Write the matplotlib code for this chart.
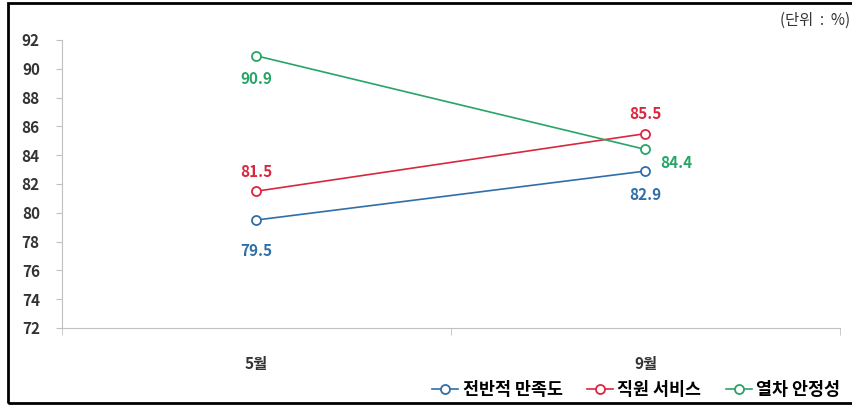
#!/usr/bin/env python3
import matplotlib
matplotlib.use('Agg')
import matplotlib.pyplot as plt
from matplotlib.patches import Rectangle

plt.rcParams['font.family'] = ['Noto Sans CJK KR', 'DejaVu Sans']

months = ['5월', '9월']
series_names = ['전반적 만족도', '직원 서비스', '열차 안정성']
overall = [79.5, 82.9]
staff = [81.5, 85.5]
train = [90.9, 84.4]
colors = ['#2f6fa8', '#d8283f', '#27a566']

# label offsets in points (dx, dy) per series per month
offsets = [[(0, -22), (0, -17)],
           [(0, 14), (0, 14)],
           [(0, -17), (22, -10)]]

fig = plt.figure(figsize=(8.53, 4.05), dpi=100)
ax = fig.add_axes([62 / 853, 1 - 328 / 405, 778 / 853, 288 / 405])

xs = list(range(len(months)))
for idx, vals in enumerate([overall, staff, train]):
  ax.plot(xs, vals, color=colors[idx], lw=1.2, marker='o', ms=6.5,
          mfc='white', mec=colors[idx], mew=1.3, label=series_names[idx])
  for j, v in enumerate(vals):
    ax.annotate('{:.1f}'.format(v), (xs[j], v), xytext=offsets[idx][j],
                textcoords='offset points', ha='center', va='center',
                color=colors[idx], fontsize=11, fontweight='bold')

ax.set_xlim(-0.5, 1.5)
ax.set_ylim(72, 92)
ax.set_yticks(range(72, 93, 2))
ax.set_xticks(xs)
ax.set_xticklabels(months)
ax.set_xticks([-0.5, 0.5, 1.5], minor=True)
ax.tick_params(axis='x', which='major', length=0, pad=20)
ax.tick_params(axis='x', which='minor', length=5, color='#c0c0c0')
ax.tick_params(axis='y', length=4, color='#c0c0c0', pad=12)
for lab in ax.get_xticklabels() + ax.get_yticklabels():
  lab.set_fontweight('bold')
  lab.set_color('#333333')
  lab.set_fontsize(11)
for s in ['top', 'right']:
  ax.spines[s].set_visible(False)
for s in ['left', 'bottom']:
  ax.spines[s].set_color('#c0c0c0')

fig.text(0.997, 1 - 20 / 405, '(단위  :  %)', ha='right', va='center',
         fontsize=11, color='#333333')

ax.legend(loc='center right', bbox_to_anchor=(1.02, -0.215), ncol=3,
          frameon=False, handlelength=1.5, handletextpad=0.25,
          columnspacing=1.4, prop={'weight': 'bold', 'size': 12.5})

fig.patches.append(Rectangle((8 / 853, 2 / 405), 1.0, 400 / 405,
                             transform=fig.transFigure, fill=False,
                             edgecolor='black', lw=2))

fig.savefig('out.png', dpi=100)
